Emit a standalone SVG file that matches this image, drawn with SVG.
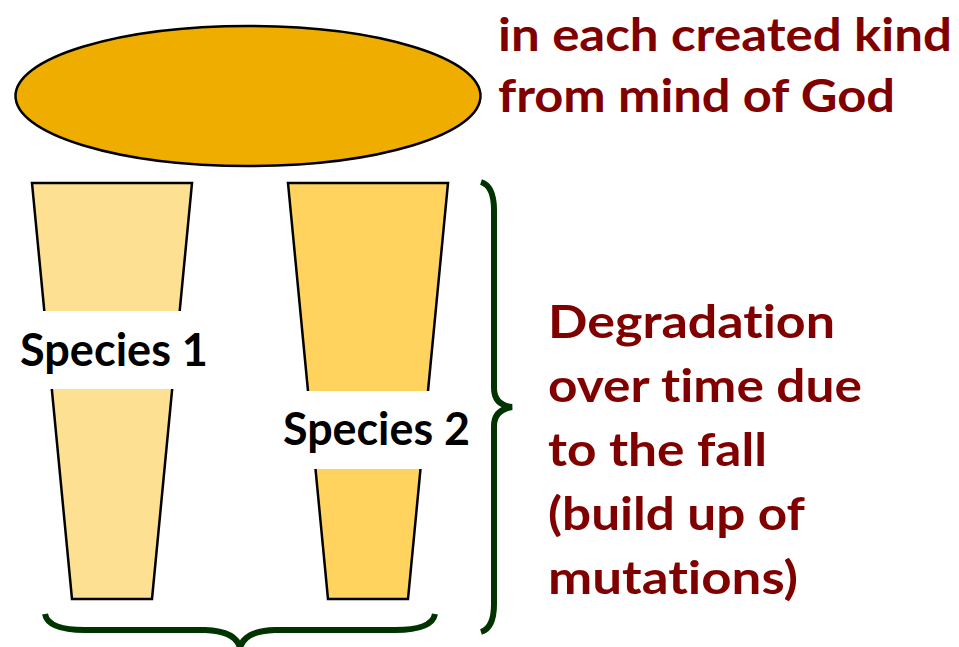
<svg xmlns="http://www.w3.org/2000/svg" width="959" height="647" viewBox="0 0 959 647">
  <style>
    text { font-variant-ligatures: none; font-feature-settings: "liga" 0, "clig" 0; }
    .red { font-family: Lato, "Open Sans", "Liberation Sans", sans-serif; font-weight: bold; font-size: 45px; fill: #800000; }
    .lbl { font-family: Lato, "Open Sans", "Liberation Sans", sans-serif; font-weight: bold; font-size: 45px; fill: #000000; }
    .shape { stroke: #000000; stroke-width: 2.5; stroke-linejoin: miter; }
    .brace { fill: none; stroke: #003300; stroke-width: 6; stroke-linecap: butt; }
  </style>
  <rect width="959" height="647" fill="#ffffff"/>
  <g id="kind">
    <ellipse cx="248" cy="96" rx="232.5" ry="70" fill="#EFAD00" class="shape"/>
  </g>
  <g id="kind-label">
    <text class="red" x="498" y="51" textLength="454" lengthAdjust="spacingAndGlyphs">in each created kind</text>
    <text class="red" x="498" y="112" textLength="397" lengthAdjust="spacingAndGlyphs">from mind of God</text>
  </g>
  <g id="species1">
    <polygon points="32,183 192,183 152,599 72,599" fill="#FDE092" class="shape"/>
    <rect x="12" y="311" width="205" height="78" fill="#ffffff"/>
    <text class="lbl" x="20" y="366" textLength="188" lengthAdjust="spacingAndGlyphs">Species 1</text>
  </g>
  <g id="species2">
    <polygon points="288,183 448,183 408,599 328,599" fill="#FFD35E" class="shape"/>
    <rect x="276" y="391" width="200" height="78" fill="#ffffff"/>
    <text class="lbl" x="283" y="445" textLength="187" lengthAdjust="spacingAndGlyphs">Species 2</text>
  </g>
  <g id="degradation-label">
    <text class="red" x="548" y="338" textLength="287" lengthAdjust="spacingAndGlyphs">Degradation</text>
    <text class="red" x="548" y="402" textLength="314" lengthAdjust="spacingAndGlyphs">over time due</text>
    <text class="red" x="548" y="466" textLength="219" lengthAdjust="spacingAndGlyphs">to the fall</text>
    <text class="red" x="548" y="530" textLength="257" lengthAdjust="spacingAndGlyphs">(build up of</text>
    <text class="red" x="548" y="594" textLength="250" lengthAdjust="spacingAndGlyphs">mutations)</text>
  </g>
  <g id="connectors">
    <path class="brace" d="M481,182 Q494,186 494,210 L494,388 Q494,405 512,407 Q494,410 494,426 L494,604 Q494,628 481,632"/>
    <path class="brace" d="M45,614 Q48,630 85,630 L205,630 Q236,631 240,648 Q244,631 275,630 L395,630 Q432,630 435,614"/>
  </g>
</svg>
